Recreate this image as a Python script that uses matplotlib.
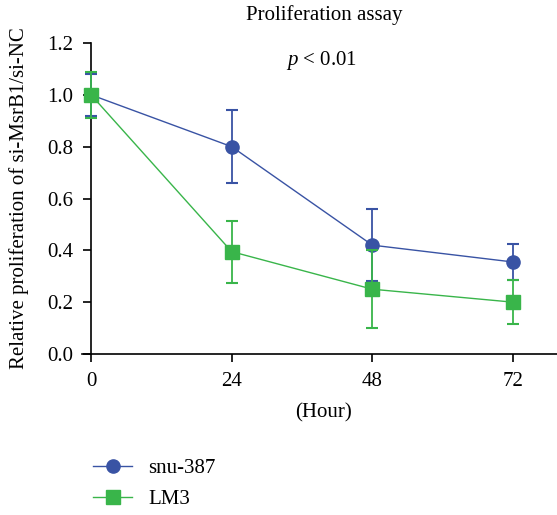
import matplotlib
matplotlib.use("Agg")
import matplotlib.pyplot as plt
from matplotlib.lines import Line2D

plt.rcParams['font.family'] = ['Liberation Serif', 'DejaVu Serif']
plt.rcParams['mathtext.fontset'] = 'custom'
plt.rcParams['mathtext.it'] = 'Liberation Serif:italic'
plt.rcParams['mathtext.rm'] = 'Liberation Serif'

hours = [0, 24, 48, 72]
xticks = [0, 24, 48, 72]
yticks = [0.0, 0.2, 0.4, 0.6, 0.8, 1.0, 1.2]
snu_mean = [1.0, 0.80, 0.42, 0.355]
snu_err = [0.08, 0.14, 0.14, 0.07]
lm3_mean = [1.0, 0.395, 0.25, 0.20]
lm3_err = [0.09, 0.12, 0.15, 0.085]
series_names = ["snu-387", "LM3"]

blue = "#3953A4"
green = "#39B54A"
FS = 15

fig = plt.figure(figsize=(5.57, 5.15), dpi=100)
ax = fig.add_axes([91/557, 1-354/515, 1-91/557, (354-43)/515])

ax.errorbar(hours, snu_mean, yerr=snu_err, color=blue, lw=1.0, marker='o',
            ms=9.5, capsize=4.5, capthick=1.5, elinewidth=1.3, zorder=3, clip_on=False)
ax.errorbar(hours, lm3_mean, yerr=lm3_err, color=green, lw=1.0, marker='s',
            ms=9.5, capsize=4.5, capthick=1.5, elinewidth=1.3, zorder=4, clip_on=False)

ax.set_xlim(0, 72 + (557-513)/140.7*24)
ax.set_ylim(0, 1.2)
ax.set_xticks(xticks)
ax.set_xticklabels([str(t) for t in xticks])
ax.set_yticks(yticks)
ax.set_yticklabels([f"{t:.1f}" for t in yticks])
for s in ['top', 'right']:
    ax.spines[s].set_visible(False)
for s in ['left', 'bottom']:
    ax.spines[s].set_linewidth(1.2)
ax.tick_params(direction='out', length=6, width=1.2, labelsize=FS, pad=7)
ax.spines['bottom'].set_bounds(-1.5, ax.get_xlim()[1])

ax.set_xlabel("(Hour)", fontsize=FS, labelpad=9)
ax.set_ylabel("Relative proliferation of si-MsrB1/si-NC", fontsize=FS, labelpad=13)
fig.text(324/557, 1-15/515, "Proliferation assay", ha='center', va='center', fontsize=FS)
fig.text(322/557, 1-60/515, r"$\it{p}$ < 0.01", ha='center', va='center', fontsize=FS)

handles = [Line2D([], [], color=blue, lw=1.0, marker='o', ms=9.5),
           Line2D([], [], color=green, lw=1.0, marker='s', ms=9.5)]
fig.legend(handles, series_names, loc='lower left', bbox_to_anchor=(74/557, -0.025),
           frameon=False, fontsize=FS, handlelength=1.9, handletextpad=0.75,
           labelspacing=0.55)

fig.savefig("out.png", dpi=100)
